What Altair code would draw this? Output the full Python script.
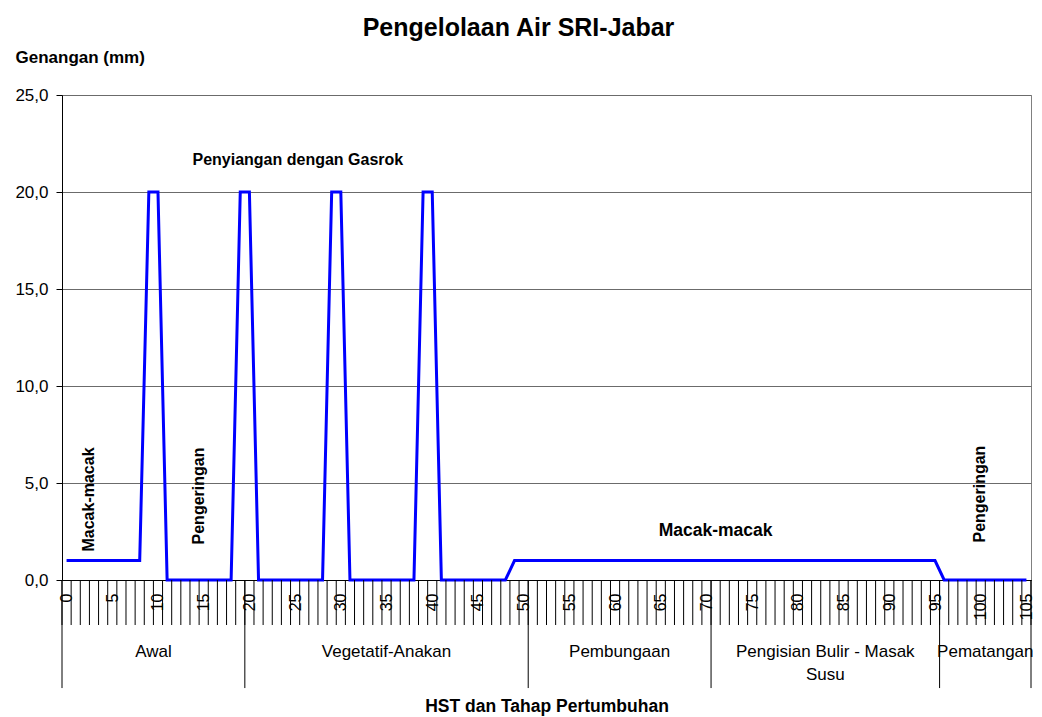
import altair as alt
import pandas as pd

FONT = "Liberation Sans"

# ---- data ----
hst = list(range(106))  # Hari Setelah Tanam 0..105
genangan = [
    1.0, 1.0, 1.0, 1.0, 1.0, 1.0, 1.0, 1.0, 1.0,          # 0-8
    20.0, 20.0,                                            # 9-10
    0.0, 0.0, 0.0, 0.0, 0.0, 0.0, 0.0, 0.0,                # 11-18
    20.0, 20.0,                                            # 19-20
    0.0, 0.0, 0.0, 0.0, 0.0, 0.0, 0.0, 0.0,                # 21-28
    20.0, 20.0,                                            # 29-30
    0.0, 0.0, 0.0, 0.0, 0.0, 0.0, 0.0, 0.0,                # 31-38
    20.0, 20.0,                                            # 39-40
    0.0, 0.0, 0.0, 0.0, 0.0, 0.0, 0.0, 0.0,                # 41-48
    1.0, 1.0, 1.0, 1.0, 1.0, 1.0, 1.0, 1.0, 1.0, 1.0,      # 49-58
    1.0, 1.0, 1.0, 1.0, 1.0, 1.0, 1.0, 1.0, 1.0, 1.0,      # 59-68
    1.0, 1.0, 1.0, 1.0, 1.0, 1.0, 1.0, 1.0, 1.0, 1.0,      # 69-78
    1.0, 1.0, 1.0, 1.0, 1.0, 1.0, 1.0, 1.0, 1.0, 1.0,      # 79-88
    1.0, 1.0, 1.0, 1.0, 1.0, 1.0, 1.0,                     # 89-95
    0.0, 0.0, 0.0, 0.0, 0.0, 0.0, 0.0, 0.0, 0.0, 0.0,      # 96-105
]
label_hst = [0, 5, 10, 15, 20, 25, 30, 35, 40, 45, 50,
             55, 60, 65, 70, 75, 80, 85, 90, 95, 100, 105]
y_ticks = [0, 5, 10, 15, 20, 25]

tahap = ["Awal", "Vegetatif-Anakan", "Pembungaan",
         "Pengisian Bulir - Masak\nSusu", "Pematangan"]
tahap_mulai = [0, 20, 51, 71, 96]
tahap_akhir = [19, 50, 70, 95, 105]

catatan_tegak = ["Macak-macak", "Pengeringan", "Pengeringan"]
catatan_tegak_hst = [2.5, 14.5, 99.9]
catatan_tegak_mm = [4.15, 4.33, 4.43]

catatan_datar = ["Penyiangan dengan Gasrok"]
catatan_datar_hst = [25.3]
catatan_datar_mm = [21.65]

catatan_macak = ["Macak-macak"]
catatan_macak_hst = [71.0]
catatan_macak_mm = [2.53]

# ---- tables ----
df_line = pd.DataFrame({"HST": hst, "Genangan": genangan})
df_tick = pd.DataFrame({"HST": [h - 0.5 for h in hst] + [hst[-1] + 0.5]})
df_batas = pd.DataFrame({"HST": [m - 0.5 for m in tahap_mulai] + [tahap_akhir[-1] + 0.5]})
df_tahap = pd.DataFrame({"tahap": tahap,
                         "HST": [(a + b) / 2 for a, b in zip(tahap_mulai, tahap_akhir)]})
df_tegak = pd.DataFrame({"teks": catatan_tegak, "HST": catatan_tegak_hst, "Genangan": catatan_tegak_mm})
df_datar = pd.DataFrame({"teks": catatan_datar, "HST": catatan_datar_hst, "Genangan": catatan_datar_mm})
df_macak = pd.DataFrame({"teks": catatan_macak, "HST": catatan_macak_hst, "Genangan": catatan_macak_mm})

xs = alt.Scale(domain=[-0.5, 105.5], nice=False, zero=False)
ys = alt.Scale(domain=[0, 25], nice=False, zero=False)

x_axis = alt.Axis(values=label_hst, labelAngle=270, labelAlign="right",
                  labelBaseline="middle", labelPadding=13, ticks=False,
                  grid=False, domainColor="#000000", domainWidth=1,
                  labelFontSize=16, labelFont=FONT, labelColor="#000000",
                  labelOverlap=False, labelFlush=False, labelBound=False,
                  format="d",
                  title="HST dan Tahap Pertumbuhan", titleFont=FONT,
                  titleFontSize=17.5, titleFontWeight="bold",
                  titleColor="#000000", titleY=126, titleBaseline="middle")
y_axis = alt.Axis(values=y_ticks, labelExpr="replace(format(datum.value, '.1f'), '.', ',')",
                  grid=True, gridColor="#6b6b6b", gridWidth=1,
                  domainColor="#000000", tickColor="#000000", tickSize=6,
                  labelPadding=8, labelFontSize=17, labelFont=FONT,
                  labelColor="#000000",
                  title="Genangan (mm)", titleFont=FONT, titleFontSize=17,
                  titleFontWeight="bold", titleColor="#000000",
                  titleAngle=0, titleAlign="left", titleBaseline="middle",
                  titleX=-47, titleY=-38)

line = alt.Chart(df_line).mark_line(color="#0000FF", strokeWidth=3).encode(
    x=alt.X("HST:Q", scale=xs, axis=x_axis),
    y=alt.Y("Genangan:Q", scale=ys, axis=y_axis),
)

ticks = alt.Chart(df_tick).mark_rule(color="#000000", strokeWidth=1).encode(
    x=alt.X("HST:Q", scale=xs, axis=x_axis),
    y=alt.Y(datum=0, scale=ys, axis=y_axis),
    y2=alt.datum(-2.32),
)

batas = alt.Chart(df_batas).mark_rule(color="#000000", strokeWidth=1).encode(
    x=alt.X("HST:Q", scale=xs, axis=x_axis),
    y=alt.Y(datum=0, scale=ys, axis=y_axis),
    y2=alt.datum(-5.57),
)

tahap_text = alt.Chart(df_tahap).mark_text(
    font=FONT, fontSize=17, baseline="top", align="center",
    lineBreak="\n", lineHeight=23, color="#000000"
).encode(
    x=alt.X("HST:Q", scale=xs, axis=x_axis),
    y=alt.Y(datum=-3.30, scale=ys, axis=y_axis),
    text="tahap:N",
)

tegak = alt.Chart(df_tegak).mark_text(
    font=FONT, fontSize=16, fontWeight="bold", angle=270,
    align="center", baseline="middle", color="#000000"
).encode(
    x=alt.X("HST:Q", scale=xs, axis=x_axis),
    y=alt.Y("Genangan:Q", scale=ys, axis=y_axis),
    text="teks:N",
)

datar = alt.Chart(df_datar).mark_text(
    font=FONT, fontSize=16, fontWeight="bold",
    align="center", baseline="middle", color="#000000"
).encode(
    x=alt.X("HST:Q", scale=xs, axis=x_axis),
    y=alt.Y("Genangan:Q", scale=ys, axis=y_axis),
    text="teks:N",
)

macak = alt.Chart(df_macak).mark_text(
    font=FONT, fontSize=17.5, fontWeight="bold",
    align="center", baseline="middle", color="#000000"
).encode(
    x=alt.X("HST:Q", scale=xs, axis=x_axis),
    y=alt.Y("Genangan:Q", scale=ys, axis=y_axis),
    text="teks:N",
)

chart = alt.layer(line, ticks, batas, tahap_text, tegak, datar, macak).properties(
    width=969, height=485,
    autosize=alt.AutoSizeParams(type="none"),
    padding={"left": 54, "top": 87, "right": 3, "bottom": 136},
    title=alt.TitleParams("Pengelolaan Air SRI-Jabar", font=FONT, fontSize=25,
                          fontWeight="bold", color="#000000", anchor="middle",
                          dx=-28, dy=-3),
    background="#FFFFFF",
).configure_view(stroke="#808080", strokeWidth=1)

chart.save("out.html", embed_options={"renderer": "svg", "actions": False})
